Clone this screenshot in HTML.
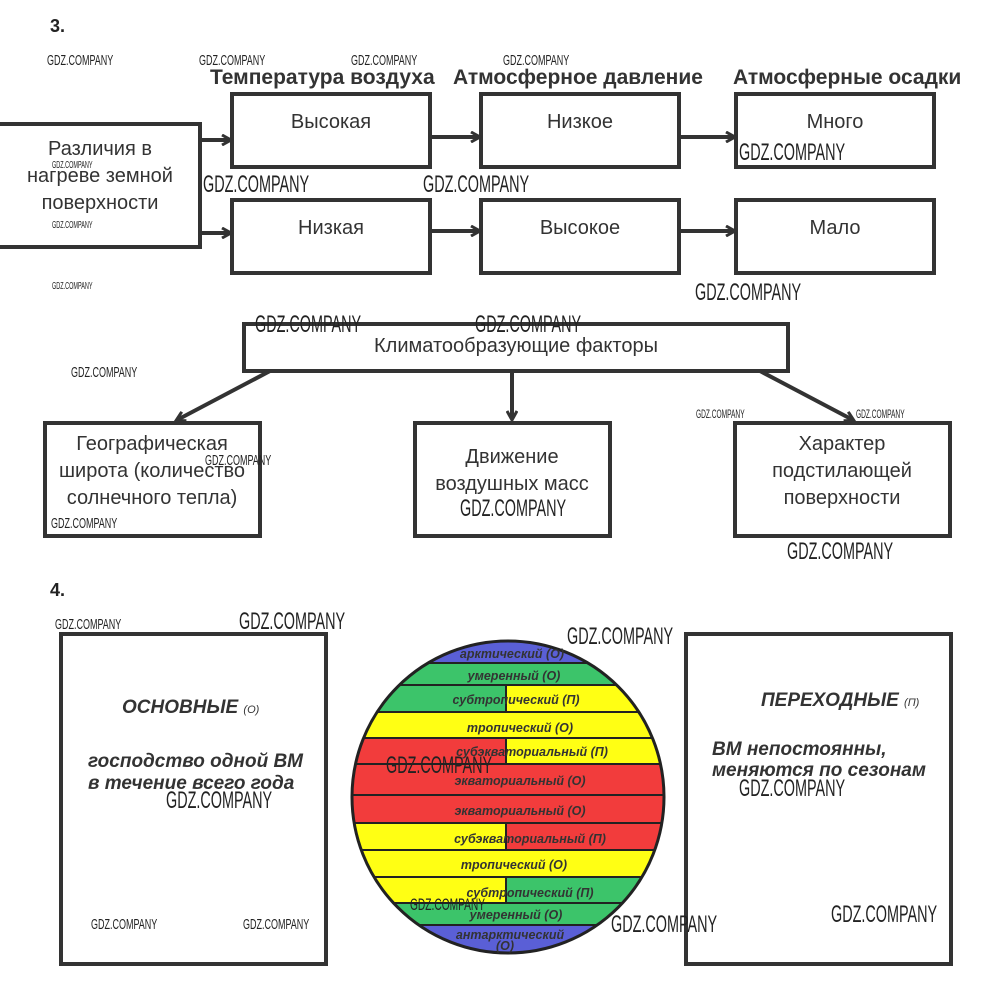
<!DOCTYPE html>
<html><head><meta charset="utf-8"><style>
html,body{margin:0;padding:0;background:#fff;}
svg{display:block;}
text{font-family:"Liberation Sans",sans-serif;}
.wm{font-family:"Liberation Sans",sans-serif;fill:#222;}
</style></head><body>
<svg width="1000" height="987" viewBox="0 0 1000 987" xmlns="http://www.w3.org/2000/svg">
<defs>
<marker id="ah" markerWidth="12" markerHeight="12" refX="9" refY="6" orient="auto" markerUnits="userSpaceOnUse">
<path d="M1,1 L10,6 L1,11" fill="none" stroke="#333" stroke-width="3"/>
</marker>
<clipPath id="globe"><circle cx="508" cy="797" r="156"/></clipPath>
</defs>

<text x="50" y="32" font-size="18" font-weight="bold" fill="#222">3.</text>

<g font-size="21" font-weight="bold" fill="#333">
<text x="210" y="84">Температура воздуха</text>
<text x="453" y="84">Атмосферное давление</text>
<text x="733" y="84">Атмосферные осадки</text>
</g>

<g fill="none" stroke="#333" stroke-width="4">
<path d="M0,124 H200 V247 H0"/>
<rect x="232" y="94" width="198" height="73"/>
<rect x="481" y="94" width="198" height="73"/>
<rect x="736" y="94" width="198" height="73"/>
<rect x="232" y="200" width="198" height="73"/>
<rect x="481" y="200" width="198" height="73"/>
<rect x="736" y="200" width="198" height="73"/>
</g>
<g stroke="#333" stroke-width="4" marker-end="url(#ah)">
<line x1="200" y1="140" x2="230" y2="140"/>
<line x1="200" y1="233" x2="230" y2="233"/>
<line x1="430" y1="137" x2="479" y2="137"/>
<line x1="430" y1="231" x2="479" y2="231"/>
<line x1="679" y1="137" x2="734" y2="137"/>
<line x1="679" y1="231" x2="734" y2="231"/>
</g>
<g font-size="20" fill="#333" text-anchor="middle">
<text x="100" y="155">Различия в</text>
<text x="100" y="182">нагреве земной</text>
<text x="100" y="209">поверхности</text>
<text x="331" y="128">Высокая</text>
<text x="580" y="128">Низкое</text>
<text x="835" y="128">Много</text>
<text x="331" y="234">Низкая</text>
<text x="580" y="234">Высокое</text>
<text x="835" y="234">Мало</text>
</g>

<g fill="none" stroke="#333" stroke-width="4">
<rect x="244" y="324" width="544" height="47"/>
<rect x="45" y="423" width="215" height="113"/>
<rect x="415" y="423" width="195" height="113"/>
<rect x="735" y="423" width="215" height="113"/>
</g>
<g stroke="#333" stroke-width="4" marker-end="url(#ah)">
<line x1="270" y1="371" x2="177" y2="420"/>
<line x1="512" y1="371" x2="512" y2="419"/>
<line x1="760" y1="371" x2="853" y2="420"/>
</g>
<g font-size="20" fill="#333" text-anchor="middle">
<text x="516" y="352">Климатообразующие факторы</text>
<text x="152" y="450">Географическая</text>
<text x="152" y="477">широта (количество</text>
<text x="152" y="504">солнечного тепла)</text>
<text x="512" y="463">Движение</text>
<text x="512" y="490">воздушных масс</text>
<text x="842" y="450">Характер</text>
<text x="842" y="477">подстилающей</text>
<text x="842" y="504">поверхности</text>
</g>

<text x="50" y="596" font-size="18" font-weight="bold" fill="#222">4.</text>

<g fill="none" stroke="#333" stroke-width="4">
<rect x="61" y="634" width="265" height="330"/>
<rect x="686" y="634" width="265" height="330"/>
</g>
<g font-style="italic" font-weight="bold" fill="#333">
<text x="122" y="713" font-size="19">ОСНОВНЫЕ <tspan font-size="11" font-weight="normal">(О)</tspan></text>
<text x="88" y="767" font-size="19">господство одной ВМ</text>
<text x="88" y="789" font-size="19">в течение всего года</text>
<text x="761" y="706" font-size="19">ПЕРЕХОДНЫЕ <tspan font-size="11" font-weight="normal">(П)</tspan></text>
<text x="712" y="755" font-size="19">ВМ непостоянны,</text>
<text x="712" y="776" font-size="19">меняются по сезонам</text>
</g>

<g clip-path="url(#globe)">
<rect x="340" y="630" width="340" height="33" fill="#5a5fd6"/>
<rect x="340" y="663" width="340" height="22" fill="#3cc46a"/>
<rect x="340" y="685" width="166" height="27" fill="#3cc46a"/>
<rect x="506" y="685" width="174" height="27" fill="#ffff14"/>
<rect x="340" y="712" width="340" height="26" fill="#ffff14"/>
<rect x="340" y="738" width="166" height="26" fill="#f23c3c"/>
<rect x="506" y="738" width="174" height="26" fill="#ffff14"/>
<rect x="340" y="764" width="340" height="59" fill="#f23c3c"/>
<rect x="340" y="823" width="166" height="27" fill="#ffff14"/>
<rect x="506" y="823" width="174" height="27" fill="#f23c3c"/>
<rect x="340" y="850" width="340" height="27" fill="#ffff14"/>
<rect x="340" y="877" width="166" height="26" fill="#ffff14"/>
<rect x="506" y="877" width="174" height="26" fill="#3cc46a"/>
<rect x="340" y="903" width="340" height="22" fill="#3cc46a"/>
<rect x="340" y="925" width="340" height="40" fill="#5a5fd6"/>
<g stroke="#222" stroke-width="2">
<line x1="340" y1="663" x2="680" y2="663"/>
<line x1="340" y1="685" x2="680" y2="685"/>
<line x1="340" y1="712" x2="680" y2="712"/>
<line x1="340" y1="738" x2="680" y2="738"/>
<line x1="340" y1="764" x2="680" y2="764"/>
<line x1="340" y1="795" x2="680" y2="795"/>
<line x1="340" y1="823" x2="680" y2="823"/>
<line x1="340" y1="850" x2="680" y2="850"/>
<line x1="340" y1="877" x2="680" y2="877"/>
<line x1="340" y1="903" x2="680" y2="903"/>
<line x1="340" y1="925" x2="680" y2="925"/>
<line x1="506" y1="685" x2="506" y2="712"/>
<line x1="506" y1="738" x2="506" y2="764"/>
<line x1="506" y1="823" x2="506" y2="850"/>
<line x1="506" y1="877" x2="506" y2="903"/>
</g>
</g>
<circle cx="508" cy="797" r="156" fill="none" stroke="#222" stroke-width="3"/>
<g font-size="12.5" font-style="italic" font-weight="bold" fill="#333" text-anchor="middle">
<text x="512" y="658">арктический (О)</text>
<text x="514" y="680">умеренный  (О)</text>
<text x="516" y="704">субтропический  (П)</text>
<text x="520" y="732">тропический  (О)</text>
<text x="532" y="756">субэкваториальный   (П)</text>
<text x="520" y="785">экваториальный   (О)</text>
<text x="520" y="815">экваториальный   (О)</text>
<text x="530" y="843">субэкваториальный   (П)</text>
<text x="514" y="869">тропический  (О)</text>
<text x="530" y="897">субтропический    (П)</text>
<text x="516" y="919">умеренный  (О)</text>
<text x="510" y="939">антарктический</text>
<text x="505" y="950">(О)</text>
</g>

<g class="wm">
<text transform="translate(47,65) scale(0.6,1)" font-size="15">GDZ.COMPANY</text>
<text transform="translate(199,65) scale(0.6,1)" font-size="15">GDZ.COMPANY</text>
<text transform="translate(351,65) scale(0.6,1)" font-size="15">GDZ.COMPANY</text>
<text transform="translate(503,65) scale(0.6,1)" font-size="15">GDZ.COMPANY</text>
<text transform="translate(52,168) scale(0.55,1)" font-size="10">GDZ.COMPANY</text>
<text transform="translate(52,228) scale(0.55,1)" font-size="10">GDZ.COMPANY</text>
<text transform="translate(52,289) scale(0.55,1)" font-size="10">GDZ.COMPANY</text>
<text transform="translate(203,192) scale(0.6,1)" font-size="24">GDZ.COMPANY</text>
<text transform="translate(423,192) scale(0.6,1)" font-size="24">GDZ.COMPANY</text>
<text transform="translate(739,160) scale(0.6,1)" font-size="24">GDZ.COMPANY</text>
<text transform="translate(695,300) scale(0.6,1)" font-size="24">GDZ.COMPANY</text>
<text transform="translate(255,332) scale(0.6,1)" font-size="24">GDZ.COMPANY</text>
<text transform="translate(475,332) scale(0.6,1)" font-size="24">GDZ.COMPANY</text>
<text transform="translate(71,377) scale(0.6,1)" font-size="15">GDZ.COMPANY</text>
<text transform="translate(696,418) scale(0.55,1)" font-size="12">GDZ.COMPANY</text>
<text transform="translate(856,418) scale(0.55,1)" font-size="12">GDZ.COMPANY</text>
<text transform="translate(205,465) scale(0.6,1)" font-size="15">GDZ.COMPANY</text>
<text transform="translate(51,528) scale(0.6,1)" font-size="15">GDZ.COMPANY</text>
<text transform="translate(460,516) scale(0.6,1)" font-size="24">GDZ.COMPANY</text>
<text transform="translate(787,559) scale(0.6,1)" font-size="24">GDZ.COMPANY</text>
<text transform="translate(55,629) scale(0.6,1)" font-size="15">GDZ.COMPANY</text>
<text transform="translate(239,629) scale(0.6,1)" font-size="24">GDZ.COMPANY</text>
<text transform="translate(567,644) scale(0.6,1)" font-size="24">GDZ.COMPANY</text>
<text transform="translate(386,773) scale(0.6,1)" font-size="24">GDZ.COMPANY</text>
<text transform="translate(166,808) scale(0.6,1)" font-size="24">GDZ.COMPANY</text>
<text transform="translate(739,796) scale(0.6,1)" font-size="24">GDZ.COMPANY</text>
<text transform="translate(410,910) scale(0.6,1)" font-size="17">GDZ.COMPANY</text>
<text transform="translate(611,932) scale(0.6,1)" font-size="24">GDZ.COMPANY</text>
<text transform="translate(831,922) scale(0.6,1)" font-size="24">GDZ.COMPANY</text>
<text transform="translate(91,929) scale(0.6,1)" font-size="15">GDZ.COMPANY</text>
<text transform="translate(243,929) scale(0.6,1)" font-size="15">GDZ.COMPANY</text>
</g>
</svg>
</body></html>
